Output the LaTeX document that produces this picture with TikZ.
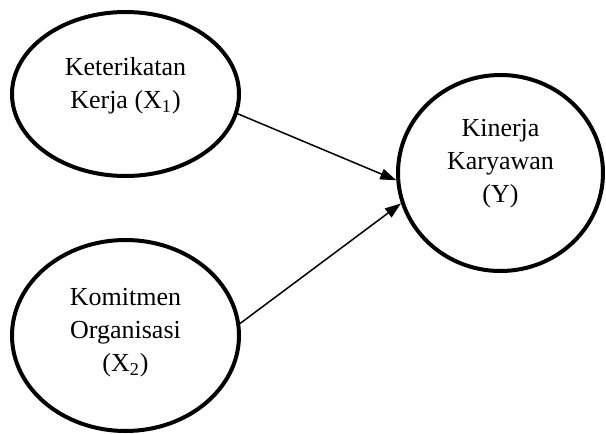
\documentclass[tikz,border=0pt]{standalone}
\usepackage{fontspec}
\setmainfont{Liberation Serif}
\usepackage{tikz}
\usetikzlibrary{arrows.meta,positioning,shapes.geometric}

\begin{document}
\begin{tikzpicture}[
    x=0.5pt, y=-0.5pt,
    >={Triangle[length=8pt,width=5.5pt]},
    var/.style={draw, ellipse, line width=2pt, inner sep=0pt},
    lbl/.style={align=center, font=\fontsize{13}{16.5}\selectfont, inner sep=0pt}
]
\useasboundingbox (0,0) rectangle (606,434);

\node[var, minimum width=113.5pt, minimum height=82pt] (kk) at (125.5,94) {};
\node[var, minimum width=113.5pt, minimum height=95.5pt] (ko) at (125.5,335.5) {};
\node[var, minimum width=102.5pt, minimum height=98pt] (ky) at (500.5,173) {};

\node[lbl, yshift=4pt] (kkt) at (kk.center) {Keterikatan\\Kerja (X\textsubscript{1})};
\node[lbl, yshift=1.5pt] (kot) at (ko.center) {Komitmen\\Organisasi\\(X\textsubscript{2})};
\node[lbl, yshift=4.5pt] (kyt) at (ky.center) {Kinerja\\Karyawan\\(Y)};

\draw[->, line width=0.75pt] (kk.-10) -- (ky.184);
\draw[->, line width=0.75pt] (ko.6) -- (ky.197);
\end{tikzpicture}
\end{document}
